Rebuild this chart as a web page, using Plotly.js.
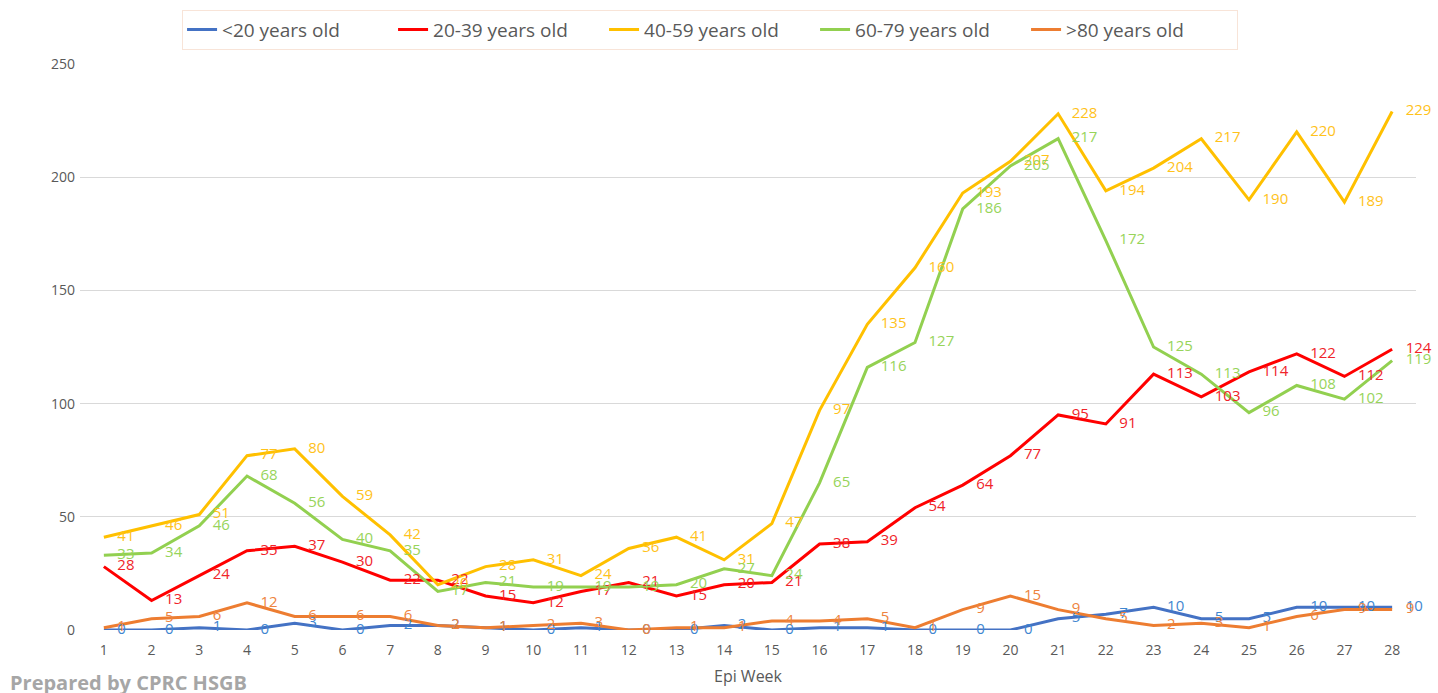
<!DOCTYPE html>
<html>
<head>
<meta charset="utf-8">
<script src="https://cdn.plot.ly/plotly-3.0.1.min.js"></script>
<style>html,body{margin:0;padding:0;background:#fff;}#chart{width:1438px;height:693px;}</style>
</head>
<body>
<div id="chart"></div>
<script>
const weeks = [1,2,3,4,5,6,7,8,9,10,11,12,13,14,15,16,17,18,19,20,21,22,23,24,25,26,27,28];
const seriesNames = ["<20 years old","20-39 years old","40-59 years old","60-79 years old",">80 years old"];
const under20 = [0,0,1,0,3,0,2,2,1,0,1,0,0,2,0,1,1,0,0,0,5,7,10,5,5,10,10,10];
const age20to39 = [28,13,24,35,37,30,22,22,15,12,17,21,15,20,21,38,39,54,64,77,95,91,113,103,114,122,112,124];
const age40to59 = [41,46,51,77,80,59,42,20,28,31,24,36,41,31,47,97,135,160,193,207,228,194,204,217,190,220,189,229];
const age60to79 = [33,34,46,68,56,40,35,17,21,19,19,19,20,27,24,65,116,127,186,205,217,172,125,113,96,108,102,119];
const over80 = [1,5,6,12,6,6,6,2,1,2,3,0,1,1,4,4,5,1,9,15,9,5,2,3,1,6,9,9];
const tickVals = [0,50,100,150,200,250];

const colors = ["#4472C4","#FF0000","#FFC000","#92D050","#ED7D31"];
const labelColors = ["#3F86D0","#F0242A","#FFC21A","#97D45A","#EE8440"];
const all = [under20, age20to39, age40to59, age60to79, over80];

const lineTraces = all.map((vals, i) => ({
  x: weeks, y: vals, name: seriesNames[i], type: "scatter", mode: "lines",
  line: {color: colors[i], width: 3}, legendgroup: "g" + i, hoverinfo: "x+y+name"
}));
const labelTraces = all.map((vals, i) => ({
  x: weeks, y: vals, name: seriesNames[i], type: "scatter", mode: "markers+text",
  marker: {size: 20, opacity: 0, color: colors[i]},
  text: vals.map(String), textposition: "middle right",
  textfont: {family: "Open Sans", size: 15, color: labelColors[i]},
  cliponaxis: false, showlegend: false, legendgroup: "g" + i, hoverinfo: "skip"
}));

const layout = {
  width: 1438, height: 693,
  margin: {l: 80, r: 22, t: 64, b: 63},
  paper_bgcolor: "#ffffff", plot_bgcolor: "#ffffff",
  font: {family: "Open Sans", color: "#595959"},
  showlegend: true,
  legend: {
    orientation: "h", x: 0.4716, xref: "paper", xanchor: "center", y: 0.986, yref: "container", yanchor: "top",
    bordercolor: "#F8E4D8", borderwidth: 1, bgcolor: "#ffffff",
    font: {family: "Open Sans", size: 19, color: "#595959"},
    itemwidth: 30, entrywidth: 166, entrywidthmode: "pixels"
  },
  xaxis: {
    range: [0.5, 28.5], tickmode: "array", tickvals: weeks, ticktext: weeks.map(String),
    showgrid: false, zeroline: false, showline: false, ticks: "",
    tickfont: {family: "Open Sans", size: 14, color: "#595959"}, ticklabelstandoff: 10,
    title: {text: "Epi Week", font: {family: "Open Sans", size: 16, color: "#595959"}, standoff: 12}
  },
  yaxis: {
    range: [0, 250], tickmode: "array", tickvals: tickVals,
    showgrid: true, gridcolor: "#D9D9D9", gridwidth: 1, zeroline: false, showline: false, ticks: "",
    tickfont: {family: "Open Sans", size: 14, color: "#595959"}, ticklabelstandoff: 4
  },
  annotations: [{
    text: "<b>Prepared by CPRC HSGB</b>", xref: "paper", yref: "paper",
    x: -0.054, y: -0.066, xanchor: "left", yanchor: "top", showarrow: false,
    font: {family: "Open Sans", size: 20, color: "#A6A6A6"}
  }]
};

Plotly.newPlot("chart", lineTraces.concat(labelTraces), layout, {displayModeBar: false, staticPlot: true});
</script>
</body>
</html>
